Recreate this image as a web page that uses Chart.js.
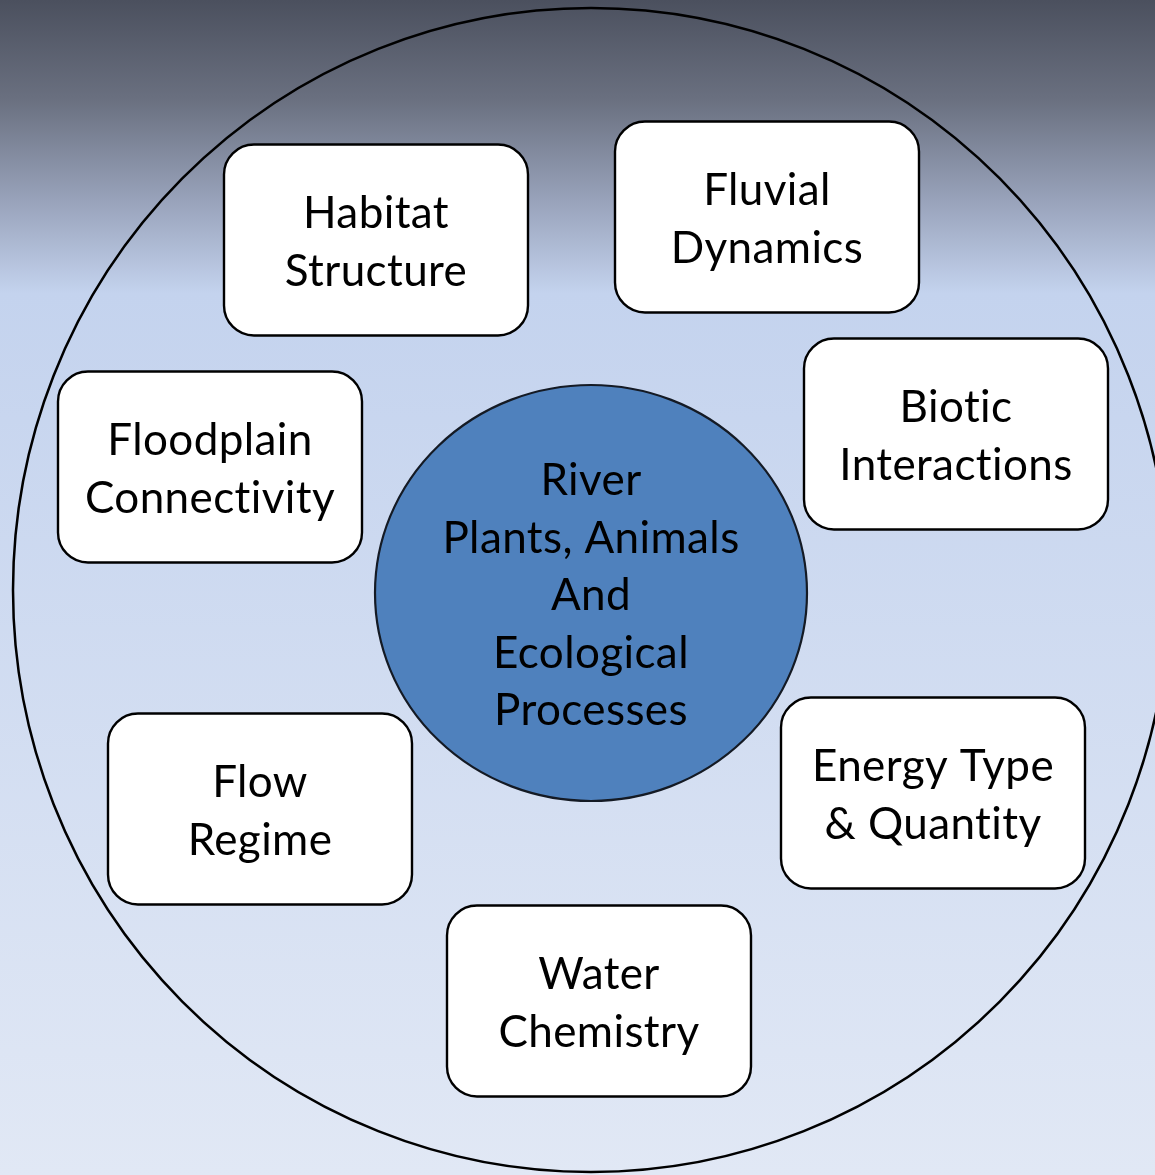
<!DOCTYPE html>
<html>
<head>
<meta charset="utf-8">
<script src="https://cdn.jsdelivr.net/npm/chart.js@4.4.1/dist/chart.umd.min.js"></script>
<style>
  html, body { margin: 0; padding: 0; background: #e1e8f5; }
  #wrap { width: 1155px; height: 1175px; }
</style>
</head>
<body>
<div id="wrap"><canvas id="riverChart" width="1155" height="1175"></canvas></div>
<script>
// factor boxes: label lines and centre positions (in diagram units)
const factorLabels = [
  ["Habitat", "Structure"],
  ["Fluvial", "Dynamics"],
  ["Floodplain", "Connectivity"],
  ["Biotic", "Interactions"],
  ["Flow", "Regime"],
  ["Energy Type", "& Quantity"],
  ["Water", "Chemistry"]
];
const factorX = [376, 767, 210, 956, 260, 933, 599];
const factorY = [240, 217, 467, 434, 809, 793, 1001];

// central node
const coreLabel = ["River", "Plants, Animals", "And", "Ecological", "Processes"];
const coreX = [591];
const coreY = [593];

// outer ring
const ringX = [591];
const ringY = [590];

const FONT = "Lato, 'Open Sans', sans-serif";

const diagramPlugin = {
  id: "diagram",
  beforeDraw(chart) {
    const { ctx, width, height } = chart;
    const g = ctx.createLinearGradient(0, 0, 0, height);
    g.addColorStop(0, "#4b505e");
    g.addColorStop(0.085, "#6a7080");
    g.addColorStop(0.17, "#98a2ba");
    g.addColorStop(0.25, "#c4d3ee");
    g.addColorStop(1, "#e1e8f5");
    ctx.save();
    ctx.fillStyle = g;
    ctx.fillRect(0, 0, width, height);
    ctx.restore();
  },
  afterDatasetsDraw(chart) {
    const { ctx } = chart;
    const xs = chart.scales.x, ys = chart.scales.y;
    const px = (v) => xs.getPixelForValue(v);
    const py = (v) => ys.getPixelForValue(v);
    const sx = (d) => Math.abs(xs.getPixelForValue(d) - xs.getPixelForValue(0));
    const sy = (d) => Math.abs(ys.getPixelForValue(d) - ys.getPixelForValue(0));

    ctx.save();
    // outer ring
    ctx.beginPath();
    ctx.ellipse(px(ringX[0]), py(ringY[0]), sx(578), sy(582), 0, 0, Math.PI * 2);
    ctx.lineWidth = 2.5;
    ctx.strokeStyle = "#000";
    ctx.stroke();

    // central ellipse
    ctx.beginPath();
    ctx.ellipse(px(coreX[0]), py(coreY[0]), sx(216), sy(208), 0, 0, Math.PI * 2);
    ctx.fillStyle = "#4f81bd";
    ctx.fill();
    ctx.lineWidth = 2.2;
    ctx.strokeStyle = "#141a24";
    ctx.stroke();

    ctx.font = "44px " + FONT;
    ctx.letterSpacing = "0.4px"; // also stops Lato's "ti" ligature
    ctx.fillStyle = "#000";
    ctx.textAlign = "center";
    ctx.textBaseline = "alphabetic";
    const lh = sy(57.5);
    const cap = 17;
    coreLabel.forEach((t, i) => {
      const off = (i - (coreLabel.length - 1) / 2) * lh;
      ctx.fillText(t, px(coreX[0]), py(coreY[0]) + off + cap);
    });

    // factor boxes
    const w = sx(304), h = sy(191), r = 30;
    factorLabels.forEach((lines, i) => {
      const cx = px(factorX[i]), cy = py(factorY[i]);
      ctx.beginPath();
      ctx.roundRect(cx - w / 2, cy - h / 2, w, h, r);
      ctx.fillStyle = "#fff";
      ctx.fill();
      ctx.lineWidth = 2.4;
      ctx.strokeStyle = "#000";
      ctx.stroke();
      ctx.fillStyle = "#000";
      lines.forEach((t, j) => {
        const off = (j - (lines.length - 1) / 2) * lh;
        ctx.fillText(t, cx, cy + off + cap);
      });
    });
    ctx.restore();
  }
};

new Chart(document.getElementById("riverChart"), {
  type: "scatter",
  data: {
    datasets: [
      {
        label: "factors",
        data: factorX.map((x, i) => ({ x, y: factorY[i] })),
        pointRadius: 0
      },
      {
        label: "core",
        data: coreX.map((x, i) => ({ x, y: coreY[i] })),
        pointRadius: 0
      }
    ]
  },
  options: {
    responsive: false,
    animation: false,
    layout: { padding: 0 },
    plugins: { legend: { display: false }, tooltip: { enabled: false } },
    events: [],
    scales: {
      x: { type: "linear", min: 0, max: 1155, display: false },
      y: { type: "linear", min: 0, max: 1175, reverse: true, display: false }
    }
  },
  plugins: [diagramPlugin]
});
</script>
</body>
</html>
